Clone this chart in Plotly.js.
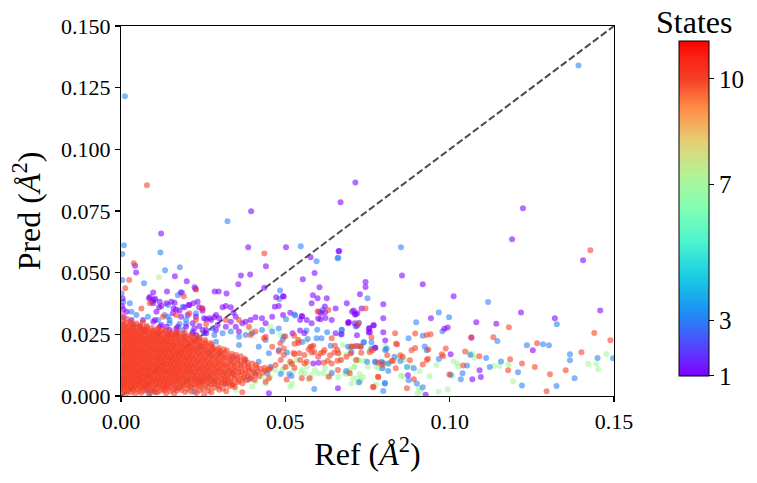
<!DOCTYPE html>
<html><head><meta charset="utf-8">
<script src="https://cdn.plot.ly/plotly-3.0.1.min.js"></script>
<style>html,body{margin:0;padding:0;background:#fff}</style>
</head><body><div id="chart" style="width:757px;height:483px"></div>
<script>
// ---------------- DATA ----------------
const states = [1, 3, 7, 10];

// [Ref, Pred] pairs in Å^2
const state1 = [[0.0396,0.0749],[0.0668,0.0785],[0.0713,0.0866],[0.1223,0.0761],[0.119,0.0635],[0.1406,0.055],[0.0855,0.0489],[0.0918,0.0453],[0.1012,0.0404],[0.1217,0.0339],[0.132,0.0315],[0.1458,0.0347],[0.1142,0.0293],[0.1081,0.0299],[0.0994,0.0278],[0.0984,0.0273],[0.0943,0.0315],[0.1066,0.0236],[0.1253,0.0185],[0.1095,0.0077],[0.1091,0.0104],[0.1069,0.0068],[0.1003,0.0169],[0.0927,0.0005],[0.0873,0.0084],[0.0804,0.0225],[0.0798,0.0258],[0.0798,0.0315],[0.0798,0.0372],[0.0773,0.0196],[0.0768,0.0287],[0.0756,0.0276],[0.0754,0.0257],[0.0732,0.0355],[0.0708,0.0347],[0.0714,0.0331],[0.0744,0.0462],[0.0744,0.0442],[0.0727,0.0413],[0.0687,0.0376],[0.0693,0.0299],[0.0664,0.0588],[0.0122,0.0659],[0.0387,0.0603],[0.0502,0.0603],[0.0043,0.0528],[0.0046,0.0501],[0.0441,0.0526],[0.0393,0.0493],[0.0365,0.0489],[0.0164,0.0485],[0.02,0.0465],[0.0357,0.0453],[0.0098,0.042],[0.014,0.0424],[0.0224,0.0441],[0.0285,0.0424],[0.0297,0.0424],[0.0321,0.0416],[0.0436,0.0439],[0.0472,0.04],[0.0493,0.0404],[0.0088,0.0401],[0.0104,0.0394],[0.0577,0.0562],[0.0662,0.0587],[0.0589,0.0499],[0.0553,0.0473],[0.0604,0.0441],[0.0584,0.0408],[0.0598,0.0396],[0.0626,0.0396],[0.058,0.0376],[0.062,0.0363],[0.0551,0.0323],[0.0495,0.0403],[0.0493,0.0328],[0.055,0.0323],[0.0603,0.0342],[0.0607,0.0311],[0.0622,0.0316],[0.0703,0.0342],[0.0712,0.033],[0.0692,0.0299],[0.0718,0.0285],[0.0754,0.0273],[0.0769,0.0287],[0.0522,0.0254],[0.0545,0.0266],[0.0558,0.0254],[0.0653,0.0254],[0.0671,0.025],[0.0718,0.0246],[0.0757,0.0258],[0.0774,0.0196],[0.0585,0.0132],[0.0601,0.0135],[0.066,0.0031],
[0.0085,0.0396],[0.0093,0.0382],[0.01,0.0389],[0.0116,0.036],[0.0123,0.0365],[0.0138,0.0376],[0.0153,0.0382],[0.016,0.0355],[0.0168,0.0351],[0.0178,0.0346],[0.0193,0.036],[0.0206,0.0369],[0.022,0.0376],[0.0238,0.036],[0.0248,0.0346],[0.0228,0.0321],[0.0259,0.0311],[0.0274,0.0308],[0.0284,0.0319],[0.0289,0.0328],[0.0299,0.0315],[0.0309,0.036],[0.0319,0.0365],[0.0334,0.036],[0.0342,0.0338],[0.0349,0.0321],[0.0369,0.0295],[0.0379,0.0301],[0.0394,0.0308],[0.0409,0.0319],[0.0429,0.0315],[0.044,0.0295],[0.046,0.0321],[0.0468,0.0362],[0.048,0.0365],[0.0515,0.0338],[0.0545,0.0308],[0.0565,0.0308],[0.058,0.0295],[0.06,0.0314],[0.0609,0.0335],[0.0621,0.034],[0.0641,0.0308],[0.0653,0.0355],[0.0711,0.0295],[0.0691,0.0295],[0.0719,0.0335],
[0.0007,0.0351],[0.0017,0.0342],[0.0032,0.0308],[0.0037,0.0284],[0.0057,0.0281],[0.0067,0.0308],[0.0072,0.0268],[0.0103,0.0308],[0.0118,0.0281],[0.0138,0.0281],[0.0148,0.0268],[0.0168,0.0274],[0.0198,0.0281],[0.0218,0.0295],[0.0238,0.0284],[0.0269,0.0315],[0.0294,0.0288],[0.0228,0.0247],[0.0319,0.0281],[0.0334,0.0301],[0.0349,0.0281],[0.0359,0.0261],[0.0289,0.0268],[0.0259,0.0268],[0.0003,0.0365],[0.0005,0.0395],[0.0008,0.0318],[0.0182,0.042],[0.0227,0.0434],[0.0246,0.0062],[0.045,0.0011],
[0.0098,0.0376],[0.0118,0.0382],[0.0163,0.0378],[0.0208,0.0369],[0.0233,0.0382],[0.0248,0.0355],[0.0108,0.0342],[0.0158,0.0335],[0.0183,0.0321],[0.0203,0.0328],[0.0253,0.0315],[0.0098,0.0301],[0.0123,0.0288],[0.0173,0.0281],[0.0223,0.0274],[0.0248,0.0268],[0.0113,0.0254],[0.0168,0.0254],[0.0218,0.0254],[0.0259,0.0254]];

const state3 = [[0.0012,0.1215],[0.0324,0.0708],[0.1392,0.134],[0.0852,0.0603],[0.1117,0.0381],[0.1326,0.0291],[0.0998,0.0319],[0.0967,0.0339],[0.0978,0.0262],[0.0898,0.0299],[0.1145,0.0223],[0.1235,0.0206],[0.1284,0.021],[0.1302,0.0206],[0.1366,0.0169],[0.1366,0.0145],[0.145,0.0154],[0.1497,0.0153],[0.138,0.0072],[0.1325,0.0041],[0.122,0.0043],[0.1208,0.0096],[0.1156,0.014],[0.1122,0.0118],[0.1111,0.0154],[0.1063,0.0166],[0.1053,0.0124],[0.1039,0.0092],[0.1034,0.0068],[0.0967,0.015],[0.1003,0.0086],[0.0918,0.0035],[0.09,0.0051],[0.0875,0.0064],[0.087,0.0118],[0.0891,0.0112],[0.093,0.0185],[0.0924,0.0201],[0.0918,0.0244],[0.0875,0.0234],[0.0832,0.0159],[0.085,0.0142],[0.0804,0.0186],[0.0808,0.0192],[0.0803,0.0051],[0.0798,0.002],[0.0792,0.0139],[0.0774,0.0138],[0.0762,0.0218],[0.0762,0.0192],[0.075,0.0396],[0.0714,0.0282],[0.0739,0.0218],[0.0672,0.0268],[0.0669,0.025],[0.0661,0.056],[0.0009,0.0611],[0.0004,0.0576],[0.012,0.0582],[0.0134,0.051],[0.0179,0.0522],[0.0004,0.047],[0.007,0.0457],[0.0173,0.0408],[0.0186,0.042],[0.0484,0.0428],[0.0547,0.0607],[0.0595,0.0546],[0.0659,0.0558],[0.0528,0.033],[0.0613,0.0349],[0.053,0.0326],[0.0502,0.0311],[0.0724,0.0297],[0.0564,0.0266],[0.0597,0.0269],[0.0627,0.0258],[0.0671,0.0269],[0.0492,0.0228],[0.0551,0.0219],[0.0568,0.0231],[0.061,0.0234],[0.0595,0.0234],[0.0638,0.0204],[0.0691,0.02],[0.0714,0.0203],[0.0729,0.02],[0.0738,0.0218],[0.0505,0.0176],[0.0701,0.0177],[0.0749,0.0139],[0.0773,0.0139],[0.0797,0.0135],[0.0814,0.0132],[0.0486,0.0089],[0.0512,0.0089],[0.0519,0.0081],[0.0641,0.0092],[0.0685,0.0101],[0.0725,0.0056],[0.0795,0.0112],[0.0813,0.0101],[0.0803,0.0053],[0.0588,0.0028],[0.0482,0.0393],
[0.0007,0.0382],[0.0027,0.0376],[0.0002,0.0416],[0.0032,0.0342],[0.0047,0.0328],[0.0082,0.0321],[0.0113,0.0308],[0.0143,0.0321],[0.0148,0.0308],[0.0178,0.0292],[0.0198,0.0308],[0.0188,0.0268],[0.0218,0.0261],[0.0253,0.0254],[0.0279,0.0274],[0.0284,0.0247],[0.0309,0.0254],[0.0334,0.0261],[0.0359,0.024],[0.0379,0.0247],[0.0399,0.0254],[0.0429,0.0268],[0.044,0.0227],[0.046,0.0261],[0.048,0.0274],[0.0495,0.024],
[0.0088,0.0011],[0.0078,0.0024],[0.0103,0.0017],[0.0138,0.0038],[0.0168,0.0031],[0.0203,0.0065],[0.0223,0.0017],[0.0269,0.0078],[0.0284,0.0058],[0.0319,0.0051],[0.0339,0.0092],[0.0389,0.0067],[0.0409,0.0092],[0.0445,0.0092],[0.0455,0.0119],[0.0419,0.0139],[0.0379,0.0146],[0.0339,0.0153],[0.0299,0.0173],[0.0269,0.0173],[0.0238,0.02],[0.0289,0.022],[0.0359,0.0207],[0.0419,0.02],[0.045,0.0173],[0.048,0.0186],[0.0007,0.0065],[0.0012,0.0119],[0.0007,0.0173],
[0.0143,0.0369],[0.0188,0.0362],[0.0133,0.0328],[0.0228,0.0335],[0.0148,0.0295],[0.0198,0.0292],[0.0143,0.0247],[0.0193,0.024],[0.0238,0.0234]];

const state7 = [[0.1477,0.0169],[0.1422,0.0131],[0.1446,0.0131],[0.1452,0.0108],[0.1193,0.006],[0.1179,0.0128],[0.1151,0.0122],[0.1134,0.0122],[0.107,0.0169],[0.1076,0.0155],[0.1027,0.012],[0.1012,0.014],[0.1009,0.0081],[0.0994,0.0026],[0.0966,0.0017],[0.0911,0.0019],[0.0902,0.0011],[0.0939,0.008],[0.0855,0.008],[0.0909,0.01],[0.0776,0.0047],[0.0842,0.0153],[0.0805,0.02],[0.0807,0.0131],[0.0757,0.0184],[0.0697,0.0196],[0.0671,0.0146],[0.0686,0.0092],[0.0709,0.0119],[0.0721,0.0146],[0.0731,0.0065],[0.0701,0.0051],[0.0751,0.0119],[0.0726,0.0089],[0.0761,0.0193],[0.0777,0.0119],[0.0797,0.0112],[0.0812,0.0132],[0.0862,0.0146],[0.0882,0.0119],[0.0907,0.0031],[0.096,0.0126],[0.1023,0.0132],[0.1061,0.0173],[0.0852,0.0082],[0.0116,0.0481],
[0.0148,0.0092],[0.0168,0.0078],[0.0188,0.0065],[0.0178,0.0031],[0.0198,0.0045],[0.0208,0.0024],[0.0238,0.0058],[0.0259,0.0078],[0.0248,0.0038],[0.0274,0.0045],[0.0289,0.0031],[0.0299,0.0065],[0.0314,0.0078],[0.0319,0.0092],[0.0334,0.0051],[0.0349,0.0024],[0.0369,0.0065],[0.0384,0.0078],[0.0399,0.0038],[0.0409,0.0058],[0.0429,0.0078],[0.044,0.0051],[0.0455,0.0078],[0.047,0.0105],[0.049,0.0098],[0.0505,0.0119],[0.052,0.0132],[0.0535,0.0146],[0.055,0.0105],[0.0565,0.0119],[0.058,0.0085],[0.06,0.0092],[0.0621,0.0112],[0.0641,0.0098],[0.0661,0.0078],[0.0681,0.0092],[0.0696,0.0105],[0.0711,0.0119],[0.0088,0.0031],[0.0067,0.0051],[0.0047,0.0078],[0.0032,0.0119],[0.0057,0.0092],[0.0098,0.0065],[0.0128,0.0051],[0.0395,0.0268],[0.0455,0.0281],[0.0485,0.0248],
[0.0538,0.0228],[0.0562,0.0222],[0.0676,0.0207],[0.0699,0.0204],[0.0804,0.0185],[0.0492,0.0108],[0.0525,0.0101],[0.0548,0.0092],[0.056,0.0092],[0.057,0.0067],[0.059,0.0105],[0.0616,0.0092],[0.0629,0.0078],[0.0687,0.0088],[0.0694,0.0098],[0.0707,0.0072],[0.0721,0.0072],[0.072,0.0054],[0.0785,0.0112],[0.0736,0.0078],[0.0515,0.0038],[0.052,0.0051],[0.0713,0.0146],[0.0724,0.0143],[0.074,0.0143],[0.0663,0.0172],[0.0686,0.0168]];

const state10 = [[0.0079,0.0854],[0.0436,0.0578],[0.0039,0.0538],[0.0025,0.047],[0.0013,0.0437],[0.0191,0.0404],[0.0228,0.0432],[0.1428,0.0591],[0.144,0.0255],[0.1489,0.0226],[0.118,0.0279],[0.1066,0.0238],[0.1133,0.0238],[0.1266,0.0214],[0.1401,0.0177],[0.1353,0.0104],[0.1295,0.0019],[0.1305,0.0088],[0.122,0.0132],[0.1259,0.0118],[0.1178,0.0104],[0.1184,0.0149],[0.109,0.0161],[0.1047,0.018],[0.1041,0.0124],[0.0988,0.0193],[0.0976,0.0169],[0.098,0.0161],[0.0999,0.0087],[0.0891,0.0068],[0.087,0.0031],[0.0918,0.0128],[0.0934,0.0151],[0.093,0.0146],[0.0935,0.0189],[0.093,0.0247],[0.0942,0.025],[0.0895,0.0253],[0.0895,0.0195],[0.0884,0.0185],[0.0879,0.0145],[0.0857,0.0159],[0.085,0.0165],[0.084,0.021],[0.0834,0.0254],[0.0836,0.0112],[0.081,0.0165],[0.0824,0.0142],[0.0795,0.0128],[0.0783,0.0077],[0.0767,0.0038],[0.0766,0.0185],[0.0762,0.0238],[0.0744,0.0355],[0.0723,0.0294],[0.0721,0.0203],[0.073,0.0201],[0.0706,0.0201],[0.0598,0.0343],[0.0837,0.0212],[0.05,0.0242],[0.0527,0.0244],[0.0528,0.0212],[0.054,0.0215],[0.0585,0.0204],[0.0576,0.0199],[0.0651,0.0204],[0.048,0.018],[0.0495,0.0166],[0.0525,0.0174],[0.0528,0.0169],[0.0542,0.0173],[0.0558,0.0166],[0.0571,0.0189],[0.058,0.0176],[0.0588,0.0178],[0.0607,0.0173],[0.0616,0.0177],[0.0619,0.0186],[0.0636,0.0165],[0.0649,0.0176],[0.0658,0.0188],[0.0699,0.0172],[0.0731,0.0175],[0.0757,0.0177],[0.0486,0.0146],[0.0515,0.0139],[0.052,0.0131],[0.0545,0.0146],[0.0558,0.0132],[0.0565,0.0139],[0.0617,0.0135],[0.0629,0.0143],[0.0659,0.0143],[0.0669,0.0146],[0.0783,0.0135],[0.0827,0.0143],[0.05,0.0118],[0.0528,0.0115],[0.0504,0.0067],[0.055,0.0072],[0.0574,0.0072],[0.0633,0.0078],[0.066,0.0105],[0.0696,0.0092],[0.0782,0.0078],[0.0768,0.0035],
[0.0062,0.0355],[0.0088,0.0376],[0.0128,0.0321],[0.0168,0.0328],[0.0208,0.0335],[0.0228,0.0308],[0.0259,0.0292],[0.0319,0.0308],[0.0359,0.0308],[0.0394,0.0247],[0.0435,0.0234],[0.046,0.02],[0.054,0.0227],[0.058,0.02],[0.06,0.0159],[0.0641,0.0132],[0.0661,0.0173],[0.0701,0.02],[0.0686,0.0159],[0.0716,0.0146],[0.0641,0.0234],[0.0631,0.0349],
[0.0246,0.0355],[0.0389,0.0281],[0.0409,0.0261],[0.044,0.024],[0.0485,0.0214],[0.0495,0.0193],[0.0455,0.0112],[0.047,0.0126],[0.044,0.0058],[0.0369,0.0015],[0.0314,0.0051],[0.0253,0.0004],[0.045,0.0072],[0.0339,0.0045],
[0.0003,0.0012],[0.0015,0.0008],[0.0031,0.0015],[0.0044,0.001],[0.0062,0.0013],[0.0085,0.0007],[0.011,0.0014],[0.0137,0.0011],[0.0162,0.0009],[0.0195,0.0016],[0.023,0.0012],[0.0275,0.0015],[0.032,0.0019],
[0.0002,0.0028],[0.0012,0.0031],[0.0024,0.0026],[0.0036,0.003],[0.005,0.0027],[0.0063,0.0033],[0.0077,0.0029],[0.0094,0.0025],[0.0108,0.0032],[0.0125,0.0028],[0.0141,0.003],[0.0158,0.0026],[0.0176,0.0031],[0.0202,0.0029],[0.0224,0.0033],[0.0251,0.0027],[0.0283,0.0034],[0.031,0.003],[0.0346,0.0036],
[0.0001,0.0043],[0.001,0.0046],[0.002,0.0041],[0.0031,0.0045],[0.0042,0.0042],[0.0054,0.0047],[0.0065,0.004],[0.0076,0.0044],[0.0088,0.0048],[0.0101,0.0042],[0.0113,0.0045],[0.0126,0.0041],[0.0138,0.0046],[0.0151,0.0043],[0.0164,0.0049],[0.0179,0.0042],[0.0193,0.0045],[0.0208,0.0041],[0.0222,0.0047],[0.0239,0.0044],[0.0256,0.0042],[0.0274,0.0048],[0.0295,0.0046],[0.0318,0.005],[0.0342,0.0047],[0.037,0.0052],
[0.0004,0.0058],[0.0015,0.0061],[0.0026,0.0056],[0.0038,0.006],[0.0049,0.0057],[0.006,0.0062],[0.0072,0.0059],[0.0083,0.0055],[0.0095,0.0061],[0.0107,0.0058],[0.0118,0.0063],[0.013,0.0056],[0.0143,0.006],[0.0156,0.0058],[0.0168,0.0062],[0.0181,0.0057],[0.0195,0.006],[0.0209,0.0059],[0.0223,0.0063],[0.0236,0.0056],[0.025,0.0061],[0.0265,0.0058],[0.0281,0.0062],[0.0298,0.006],[0.0316,0.0064],[0.0335,0.0059],[0.0357,0.0063],[0.0382,0.0065],[0.0406,0.0066],
[0.0000,0.0073],[0.0011,0.0076],[0.0022,0.0071],[0.0033,0.0075],[0.0044,0.007],[0.0056,0.0074],[0.0067,0.0077],[0.0079,0.0072],[0.009,0.0075],[0.0102,0.0071],[0.0114,0.0076],[0.0125,0.0073],[0.0137,0.007],[0.0149,0.0074],[0.0161,0.0078],[0.0173,0.0072],[0.0186,0.0075],[0.0199,0.0071],[0.0212,0.0076],[0.0225,0.0073],[0.0239,0.0077],[0.0253,0.0072],[0.0268,0.0075],[0.0284,0.0074],[0.03,0.0078],[0.0317,0.0073],[0.0335,0.0076],[0.0353,0.0079],[0.0374,0.0075],[0.0396,0.0078],[0.042,0.008],
[0.0005,0.0088],[0.0016,0.0091],[0.0027,0.0086],[0.0038,0.009],[0.005,0.0087],[0.0061,0.0092],[0.0073,0.0089],[0.0084,0.0085],[0.0096,0.0091],[0.0108,0.0088],[0.0119,0.0093],[0.0131,0.0086],[0.0142,0.009],[0.0154,0.0088],[0.0166,0.0092],[0.0178,0.0087],[0.0191,0.009],[0.0204,0.0089],[0.0217,0.0093],[0.023,0.0086],[0.0244,0.0091],[0.0258,0.0088],[0.0273,0.0092],[0.0289,0.009],[0.0305,0.0094],[0.0322,0.0089],[0.034,0.0093],[0.0359,0.0095],[0.038,0.0091],[0.0403,0.0096],[0.0431,0.0094],
[0.0001,0.0103],[0.0012,0.0106],[0.0023,0.0101],[0.0034,0.0105],[0.0045,0.01],[0.0057,0.0104],[0.0068,0.0107],[0.008,0.0102],[0.0091,0.0105],[0.0103,0.0101],[0.0115,0.0106],[0.0126,0.0103],[0.0138,0.01],[0.015,0.0104],[0.0162,0.0108],[0.0174,0.0102],[0.0187,0.0105],[0.02,0.0101],[0.0213,0.0106],[0.0227,0.0103],[0.0241,0.0107],[0.0255,0.0102],[0.027,0.0105],[0.0286,0.0104],[0.0302,0.0108],[0.0319,0.0103],[0.0337,0.0106],[0.0356,0.0109],[0.0377,0.0105],[0.0399,0.0108],[0.0424,0.011],[0.045,0.0107],
[0.0006,0.0118],[0.0017,0.0121],[0.0028,0.0116],[0.0039,0.012],[0.0051,0.0117],[0.0062,0.0122],[0.0074,0.0119],[0.0085,0.0115],[0.0097,0.0121],[0.0109,0.0118],[0.012,0.0123],[0.0132,0.0116],[0.0144,0.012],[0.0156,0.0118],[0.0168,0.0122],[0.018,0.0117],[0.0193,0.012],[0.0206,0.0119],[0.0219,0.0123],[0.0233,0.0116],[0.0247,0.0121],[0.0262,0.0118],[0.0277,0.0122],[0.0293,0.012],[0.0309,0.0124],[0.0326,0.0119],[0.0345,0.0123],[0.0365,0.0125],[0.0387,0.0121],[0.0411,0.0126],
[0.0002,0.0133],[0.0013,0.0136],[0.0024,0.0131],[0.0035,0.0135],[0.0046,0.013],[0.0058,0.0134],[0.0069,0.0137],[0.0081,0.0132],[0.0092,0.0135],[0.0104,0.0131],[0.0116,0.0136],[0.0127,0.0133],[0.0139,0.013],[0.0151,0.0134],[0.0163,0.0138],[0.0175,0.0132],[0.0188,0.0135],[0.0201,0.0131],[0.0214,0.0136],[0.0228,0.0133],[0.0242,0.0137],[0.0257,0.0132],[0.0272,0.0135],[0.0288,0.0134],[0.0305,0.0138],[0.0323,0.0133],[0.0342,0.0136],[0.0363,0.0139],[0.0385,0.0135],
[0.0007,0.0148],[0.0018,0.0151],[0.0029,0.0146],[0.004,0.015],[0.0052,0.0147],[0.0063,0.0152],[0.0075,0.0149],[0.0086,0.0145],[0.0098,0.0151],[0.011,0.0148],[0.0121,0.0153],[0.0133,0.0146],[0.0145,0.015],[0.0157,0.0148],[0.0169,0.0152],[0.0181,0.0147],[0.0194,0.015],[0.0207,0.0149],[0.022,0.0153],[0.0234,0.0146],[0.0248,0.0151],[0.0263,0.0148],[0.0279,0.0152],[0.0296,0.015],[0.0314,0.0154],[0.0333,0.0149],[0.0354,0.0153],[0.0376,0.0151],
[0.0003,0.0163],[0.0014,0.0166],[0.0025,0.0161],[0.0036,0.0165],[0.0047,0.016],[0.0059,0.0164],[0.007,0.0167],[0.0082,0.0162],[0.0093,0.0165],[0.0105,0.0161],[0.0117,0.0166],[0.0128,0.0163],[0.014,0.016],[0.0152,0.0164],[0.0164,0.0168],[0.0176,0.0162],[0.0189,0.0165],[0.0202,0.0161],[0.0215,0.0166],[0.0229,0.0163],[0.0243,0.0167],[0.0258,0.0162],[0.0274,0.0165],[0.0291,0.0164],[0.0309,0.0168],[0.0328,0.0163],[0.035,0.0166],
[0.0008,0.0178],[0.0019,0.0181],[0.003,0.0176],[0.0041,0.018],[0.0053,0.0177],[0.0064,0.0182],[0.0076,0.0179],[0.0087,0.0175],[0.0099,0.0181],[0.0111,0.0178],[0.0122,0.0183],[0.0134,0.0176],[0.0146,0.018],[0.0158,0.0178],[0.017,0.0182],[0.0183,0.0177],[0.0196,0.018],[0.0209,0.0179],[0.0223,0.0183],[0.0237,0.0176],[0.0252,0.0181],[0.0268,0.0178],[0.0285,0.0182],[0.0303,0.018],[0.0322,0.0184],
[0.0004,0.0193],[0.0015,0.0196],[0.0026,0.0191],[0.0037,0.0195],[0.0048,0.019],[0.006,0.0194],[0.0071,0.0197],[0.0083,0.0192],[0.0094,0.0195],[0.0106,0.0191],[0.0118,0.0196],[0.0129,0.0193],[0.0141,0.019],[0.0153,0.0194],[0.0165,0.0198],[0.0178,0.0192],[0.0191,0.0195],[0.0204,0.0191],[0.0218,0.0196],[0.0232,0.0193],[0.0247,0.0197],[0.0263,0.0192],[0.028,0.0195],[0.0298,0.0196],
[0.0009,0.0208],[0.002,0.0211],[0.0031,0.0206],[0.0042,0.021],[0.0054,0.0207],[0.0065,0.0212],[0.0077,0.0209],[0.0088,0.0205],[0.01,0.0211],[0.0112,0.0208],[0.0123,0.0213],[0.0135,0.0206],[0.0147,0.021],[0.0159,0.0208],[0.0172,0.0212],[0.0185,0.0207],[0.0198,0.021],[0.0212,0.0209],[0.0226,0.0213],[0.0241,0.0206],[0.0257,0.0211],[0.0274,0.0209],
[0.0005,0.0223],[0.0016,0.0226],[0.0027,0.0221],[0.0038,0.0225],[0.0049,0.022],[0.0061,0.0224],[0.0072,0.0227],[0.0084,0.0222],[0.0095,0.0225],[0.0107,0.0221],[0.0119,0.0226],[0.013,0.0223],[0.0142,0.022],[0.0155,0.0224],[0.0168,0.0228],[0.0181,0.0222],[0.0195,0.0225],[0.0209,0.0221],[0.0224,0.0226],[0.024,0.0223],[0.0256,0.0227],
[0.0002,0.0238],[0.0013,0.0241],[0.0024,0.0236],[0.0035,0.024],[0.0047,0.0237],[0.0058,0.0242],[0.007,0.0239],[0.0081,0.0235],[0.0093,0.0241],[0.0105,0.0238],[0.0117,0.0243],[0.0129,0.0236],[0.0142,0.024],[0.0155,0.0238],[0.0169,0.0242],[0.0183,0.0237],[0.0198,0.024],[0.0214,0.0239],[0.0231,0.0243],
[0.0006,0.0253],[0.0017,0.0256],[0.0029,0.0251],[0.004,0.0255],[0.0052,0.025],[0.0064,0.0254],[0.0076,0.0257],[0.0088,0.0252],[0.0101,0.0255],[0.0114,0.0251],[0.0128,0.0256],[0.0143,0.0253],[0.0159,0.025],[0.0176,0.0254],[0.0194,0.0256],
[0.0003,0.0268],[0.0014,0.0271],[0.0026,0.0266],[0.0038,0.027],[0.0051,0.0267],[0.0065,0.0272],[0.008,0.0269],[0.0096,0.0265],[0.0113,0.0271],[0.0131,0.0268],
[0.0001,0.0285],[0.0012,0.0288],[0.0025,0.0283],[0.004,0.0289],[0.0058,0.0286],[0.0079,0.0284],
[0.0005,0.0305],[0.0018,0.0312],[0.0002,0.0328],[0.003,0.0301],
[0.0008,0.002],[0.0021,0.0018],[0.0039,0.0022],[0.0056,0.0019],[0.0071,0.0021],[0.0089,0.0023],[0.0103,0.0017],[0.012,0.002],[0.0133,0.0022],[0.015,0.0019],[0.0169,0.0021],[0.0184,0.0024],[0.0213,0.0018],[0.024,0.0022],[0.0266,0.002],[0.0299,0.0025],
[0.0006,0.0036],[0.0018,0.0038],[0.003,0.0034],[0.0043,0.0037],[0.0057,0.0035],[0.007,0.0039],[0.0085,0.0036],[0.0099,0.0033],[0.0116,0.0038],[0.0133,0.0035],[0.0149,0.0037],[0.0167,0.0034],[0.0187,0.0039],[0.0213,0.0036],[0.0236,0.0038],[0.0266,0.0035],[0.0298,0.0039],[0.033,0.004],
[0.0005,0.0051],[0.0015,0.0053],[0.0026,0.0049],[0.0037,0.0052],[0.0048,0.005],[0.0059,0.0054],[0.0071,0.0051],[0.0082,0.0048],[0.0094,0.0053],[0.0107,0.005],[0.0119,0.0052],[0.0132,0.0049],[0.0145,0.0054],[0.0158,0.0051],[0.0171,0.0053],[0.0186,0.0049],[0.0201,0.0052],[0.0215,0.005],[0.0231,0.0054],[0.0248,0.0051],[0.0265,0.0053],[0.0284,0.005],[0.0306,0.0054],[0.033,0.0055],[0.0356,0.0056],
[0.0000,0.0066],[0.001,0.0068],[0.0021,0.0064],[0.0032,0.0067],[0.0043,0.0065],[0.0055,0.0069],[0.0066,0.0066],[0.0078,0.0063],[0.0089,0.0068],[0.0101,0.0065],[0.0112,0.0067],[0.0124,0.0064],[0.0137,0.0069],[0.015,0.0066],[0.0162,0.0068],[0.0175,0.0064],[0.0188,0.0067],[0.0202,0.0065],[0.0216,0.0069],[0.0229,0.0066],[0.0243,0.0068],[0.0258,0.0065],[0.0273,0.0069],[0.0289,0.0067],[0.0307,0.007],[0.0325,0.0066],[0.0346,0.007],[0.0369,0.0071],[0.0394,0.0072],
[0.0006,0.0081],[0.0017,0.0083],[0.0028,0.0079],[0.0039,0.0082],[0.005,0.008],[0.0062,0.0084],[0.0073,0.0081],[0.0085,0.0078],[0.0096,0.0083],[0.0108,0.008],[0.012,0.0082],[0.0131,0.0079],[0.0143,0.0084],[0.0155,0.0081],[0.0167,0.0083],[0.0179,0.0079],[0.0192,0.0082],[0.0205,0.008],[0.0218,0.0084],[0.0232,0.0081],[0.0246,0.0083],[0.026,0.008],[0.0276,0.0084],[0.0292,0.0082],[0.0309,0.0085],[0.0326,0.0081],[0.0344,0.0085],[0.0364,0.0086],[0.0386,0.0083],[0.0409,0.0087],
[0.0000,0.0096],[0.0011,0.0098],[0.0022,0.0094],[0.0033,0.0097],[0.0044,0.0095],[0.0055,0.0099],[0.0067,0.0096],[0.0078,0.0093],[0.009,0.0098],[0.0102,0.0095],[0.0113,0.0097],[0.0125,0.0094],[0.0136,0.0099],[0.0148,0.0096],[0.016,0.0098],[0.0172,0.0094],[0.0184,0.0097],[0.0197,0.0095],[0.021,0.0099],[0.0223,0.0096],[0.0237,0.0098],[0.0251,0.0095],[0.0265,0.0099],[0.0281,0.0097],[0.0297,0.01],[0.0313,0.0096],[0.0331,0.01],[0.0349,0.0101],[0.0369,0.0098],[0.0391,0.0102],[0.0416,0.01],[0.044,0.0103],
[0.0006,0.0111],[0.0017,0.0113],[0.0028,0.0109],[0.0039,0.0112],[0.005,0.011],[0.0062,0.0114],[0.0074,0.0111],[0.0085,0.0108],[0.0097,0.0113],[0.0109,0.011],[0.012,0.0112],[0.0132,0.0109],[0.0144,0.0114],[0.0156,0.0111],[0.0168,0.0113],[0.018,0.0109],[0.0193,0.0112],[0.0206,0.011],[0.0219,0.0114],[0.0233,0.0111],[0.0247,0.0113],[0.0262,0.011],[0.0277,0.0114],[0.0293,0.0112],[0.031,0.0115],[0.0327,0.0111],[0.0346,0.0115],[0.0366,0.0116],[0.0388,0.0113],[0.0412,0.0117],[0.0437,0.0115],
[0.0001,0.0126],[0.0012,0.0128],[0.0023,0.0124],[0.0034,0.0127],[0.0045,0.0125],[0.0056,0.0129],[0.0068,0.0126],[0.0079,0.0123],[0.0091,0.0128],[0.0103,0.0125],[0.0114,0.0127],[0.0126,0.0124],[0.0138,0.0129],[0.015,0.0126],[0.0162,0.0128],[0.0174,0.0124],[0.0187,0.0127],[0.02,0.0125],[0.0213,0.0129],[0.0226,0.0126],[0.024,0.0128],[0.0255,0.0125],[0.027,0.0129],[0.0285,0.0127],[0.0301,0.013],[0.0318,0.0126],[0.0336,0.013],[0.0355,0.0131],[0.0376,0.0128],[0.0399,0.0132],
[0.0007,0.0141],[0.0018,0.0143],[0.0029,0.0139],[0.004,0.0142],[0.0051,0.014],[0.0063,0.0144],[0.0074,0.0141],[0.0086,0.0138],[0.0097,0.0143],[0.0109,0.014],[0.0121,0.0142],[0.0132,0.0139],[0.0144,0.0144],[0.0156,0.0141],[0.0168,0.0143],[0.018,0.0139],[0.0193,0.0142],[0.0206,0.014],[0.0219,0.0144],[0.0233,0.0141],[0.0247,0.0143],[0.0262,0.014],[0.0278,0.0144],[0.0295,0.0142],[0.0313,0.0145],[0.0332,0.0141],[0.0353,0.0145],[0.0375,0.0143],
[0.0002,0.0156],[0.0013,0.0158],[0.0024,0.0154],[0.0035,0.0157],[0.0046,0.0155],[0.0057,0.0159],[0.0069,0.0156],[0.008,0.0153],[0.0092,0.0158],[0.0104,0.0155],[0.0115,0.0157],[0.0127,0.0154],[0.0139,0.0159],[0.0151,0.0156],[0.0163,0.0158],[0.0175,0.0154],[0.0188,0.0157],[0.0201,0.0155],[0.0214,0.0159],[0.0227,0.0156],[0.0241,0.0158],[0.0256,0.0155],[0.0271,0.0159],[0.0287,0.0157],[0.0304,0.016],[0.0322,0.0156],[0.0342,0.0159],[0.0364,0.0161],
[0.0007,0.0171],[0.0018,0.0173],[0.0029,0.0169],[0.004,0.0172],[0.0052,0.017],[0.0063,0.0174],[0.0075,0.0171],[0.0086,0.0168],[0.0098,0.0173],[0.011,0.017],[0.0121,0.0172],[0.0133,0.0169],[0.0145,0.0174],[0.0157,0.0171],[0.0169,0.0173],[0.0182,0.0169],[0.0195,0.0172],[0.0208,0.017],[0.0222,0.0174],[0.0236,0.0171],[0.0251,0.0173],[0.0266,0.017],[0.0282,0.0174],[0.0299,0.0172],[0.0317,0.0175],[0.0337,0.0171],
[0.0002,0.0186],[0.0013,0.0188],[0.0024,0.0184],[0.0035,0.0187],[0.0046,0.0185],[0.0058,0.0189],[0.0069,0.0186],[0.0081,0.0183],[0.0092,0.0188],[0.0104,0.0185],[0.0116,0.0187],[0.0127,0.0184],[0.0139,0.0189],[0.0151,0.0186],[0.0164,0.0188],[0.0177,0.0184],[0.019,0.0187],[0.0203,0.0185],[0.0217,0.0189],[0.0231,0.0186],[0.0246,0.0188],[0.0261,0.0185],[0.0277,0.0189],[0.0294,0.0187],[0.0312,0.019],
[0.0008,0.0201],[0.0019,0.0203],[0.003,0.0199],[0.0041,0.0202],[0.0053,0.02],[0.0064,0.0204],[0.0076,0.0201],[0.0087,0.0198],[0.0099,0.0203],[0.0111,0.02],[0.0123,0.0202],[0.0135,0.0199],[0.0147,0.0204],[0.0159,0.0201],[0.0172,0.0203],[0.0185,0.0199],[0.0199,0.0202],[0.0213,0.02],[0.0228,0.0204],[0.0244,0.0201],[0.026,0.0203],[0.0278,0.02],
[0.0003,0.0216],[0.0014,0.0218],[0.0025,0.0214],[0.0036,0.0217],[0.0047,0.0215],[0.0059,0.0219],[0.007,0.0216],[0.0082,0.0213],[0.0093,0.0218],[0.0105,0.0215],[0.0117,0.0217],[0.0129,0.0214],[0.0141,0.0219],[0.0154,0.0216],[0.0167,0.0218],[0.018,0.0214],[0.0194,0.0217],[0.0208,0.0215],[0.0223,0.0219],[0.0239,0.0216],[0.0255,0.0218],[0.0272,0.0215],
[0.0009,0.0231],[0.002,0.0233],[0.0031,0.0229],[0.0042,0.0232],[0.0054,0.023],[0.0065,0.0234],[0.0077,0.0231],[0.0089,0.0228],[0.01,0.0233],[0.0112,0.023],[0.0124,0.0232],[0.0137,0.0229],[0.015,0.0234],[0.0163,0.0231],[0.0177,0.0233],[0.0191,0.0229],[0.0206,0.0232],[0.0222,0.023],[0.0239,0.0234],
[0.0004,0.0246],[0.0015,0.0248],[0.0026,0.0244],[0.0038,0.0247],[0.0049,0.0245],[0.0061,0.0249],[0.0073,0.0246],[0.0085,0.0243],[0.0098,0.0248],[0.0111,0.0245],[0.0125,0.0247],[0.014,0.0244],[0.0156,0.0249],[0.0173,0.0246],[0.0191,0.0248],[0.021,0.0245],
[0.0001,0.0261],[0.0011,0.0263],[0.0022,0.0259],[0.0033,0.0262],[0.0045,0.026],[0.0058,0.0264],[0.0071,0.0261],[0.0085,0.0258],[0.01,0.0263],[0.0116,0.026],[0.0133,0.0262],[0.0151,0.0259],[0.017,0.0263],
[0.0007,0.0276],[0.0019,0.0278],[0.0032,0.0274],[0.0046,0.0277],[0.0061,0.0275],[0.0077,0.0279],[0.0094,0.0276],[0.0112,0.0273],
[0.0004,0.0293],[0.0016,0.0296],[0.003,0.0291],[0.0047,0.0294],[0.0066,0.0298]];

const xTickVals = [0, 0.05, 0.10, 0.15];
const yTickVals = [0, 0.025, 0.05, 0.075, 0.10, 0.125, 0.15];
const diagonal = [0, 0.15];   // y = x reference line end points

// ---------------- STYLE ----------------
const FONT = 'Liberation Serif, Times New Roman, serif';
const rainbow = [[0,'rgb(128,0,255)'],[0.1,'rgb(77,79,252)'],[0.2,'rgb(26,150,243)'],[0.3,'rgb(26,206,227)'],[0.4,'rgb(77,243,206)'],[0.5,'rgb(128,255,180)'],[0.6,'rgb(179,243,150)'],[0.7,'rgb(230,206,116)'],[0.8,'rgb(255,140,72)'],[0.887,'rgb(246,62,38)'],[0.95,'rgb(250,35,20)'],[1,'rgb(255,0,0)']];
// position of each state along the colour bar (fraction of bar height)
const barPos = {1: 0, 3: 0.167, 7: 0.573, 10: 0.887};

const groups = [[7, state7], [3, state3], [1, state1], [10, state10]];
const xs = [], ys = [], cs = [];
groups.forEach(([s, pts]) => pts.forEach(p => { xs.push(p[0]); ys.push(p[1]); cs.push(barPos[s]); }));

const scatter = {
  type: 'scatter', mode: 'markers', x: xs, y: ys, hoverinfo: 'skip',
  marker: {
    size: 6, opacity: 0.58, color: cs, cmin: 0, cmax: 1, colorscale: rainbow,
    line: {width: 0}, showscale: true,
    colorbar: {
      x: 1.131, xanchor: 'left', xpad: 0, y: 0.9595, yanchor: 'top', ypad: 0,
      len: 0.9054, lenmode: 'fraction', thickness: 30, thicknessmode: 'pixels',
      outlinewidth: 1, outlinecolor: '#000',
      tickvals: states.map(s => barPos[s]), ticktext: states.map(String),
      ticks: 'outside', ticklen: 5, tickwidth: 1, tickcolor: '#000',
      tickfont: {size: 25, family: FONT, color: '#000'}
    }
  },
  showlegend: false
};

const axisCommon = {
  ticks: 'outside', ticklen: 5, tickwidth: 1.2, tickcolor: '#000',
  showline: true, mirror: true, linecolor: '#000', linewidth: 1.2,
  showgrid: false, zeroline: false,
  tickfont: {size: 22, family: FONT, color: '#000'}
};

const layout = {
  width: 757, height: 483,
  margin: {l: 121, r: 140, t: 26, b: 87},
  paper_bgcolor: '#fff', plot_bgcolor: '#fff',
  font: {family: FONT, color: '#000'},
  xaxis: Object.assign({}, axisCommon, {
    range: [0, 0.15], tickvals: xTickVals, ticktext: xTickVals.map(v => v.toFixed(2)),
    title: {text: 'Ref (<i>Å</i><sup>2</sup>)', font: {size: 32, family: FONT, color: '#000'}, standoff: 10}
  }),
  yaxis: Object.assign({}, axisCommon, {
    range: [0, 0.15], tickvals: yTickVals, ticktext: yTickVals.map(v => v.toFixed(3)),
    title: {text: 'Pred (<i>Å</i><sup>2</sup>)', font: {size: 32, family: FONT, color: '#000'}, standoff: 10}
  }),
  shapes: [{
    type: 'line', xref: 'x', yref: 'y', layer: 'below',
    x0: diagonal[0], y0: diagonal[0], x1: diagonal[1], y1: diagonal[1],
    line: {color: 'rgba(0,0,0,0.7)', width: 2, dash: '7px,3px'}
  }],
  annotations: [{
    text: 'States', xref: 'paper', yref: 'paper', x: 1.1613, y: 1.0108,
    xanchor: 'center', yanchor: 'middle', showarrow: false,
    font: {size: 32, family: FONT, color: '#000'}
  }]
};

Plotly.newPlot('chart', [scatter], layout, {displayModeBar: false, staticPlot: true});
</script>
</body></html>
